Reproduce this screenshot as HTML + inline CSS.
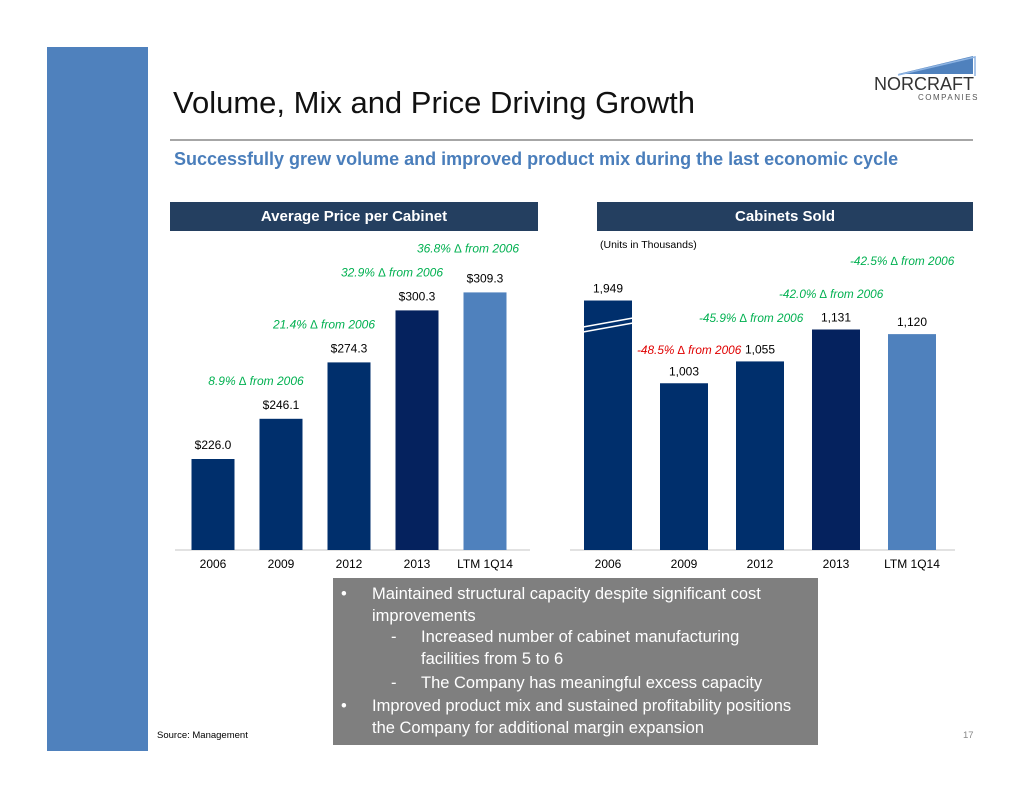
<!DOCTYPE html>
<html><head><meta charset="utf-8"><style>
body{margin:0;width:1034px;height:799px;background:#fff;position:relative;overflow:hidden;font-family:"Liberation Sans",sans-serif}
.abs{position:absolute}
.hdr{position:absolute;top:202px;height:29px;background:#243f60;color:#fff;font-weight:bold;font-size:15px;line-height:29px;text-align:center}
svg text{font-family:"Liberation Sans",sans-serif}
</style></head><body>
<div class="abs" style="left:47px;top:47px;width:101px;height:704px;background:#4f81bd"></div>
<div class="abs" style="left:173px;top:85px;font-size:31px;color:#111">Volume, Mix and Price Driving Growth</div>
<div class="abs" style="left:868px;top:52px;width:115px;height:50px">
<svg width="115" height="50"><polygon points="30,22 105,4 105,22" fill="#4f81bd"/><polyline points="30,23 107,5 107,24" fill="none" stroke="#8db3e2" stroke-width="1.5"/>
<text x="6" y="38" font-family="Liberation Serif" font-size="18" fill="#333">NORCRAFT</text><text x="50" y="48" font-family="Liberation Serif" font-size="8" fill="#555" letter-spacing="1.5">COMPANIES</text></svg></div>
<div class="abs" style="left:170px;top:139px;width:803px;height:2px;background:#a6a6a6"></div>
<div class="abs" style="left:174px;top:149px;font-size:18px;font-weight:bold;color:#4a7ebb">Successfully grew volume and improved product mix during the last economic cycle</div>
<div class="hdr" style="left:170px;width:368px">Average Price per Cabinet</div>
<div class="hdr" style="left:597px;width:376px">Cabinets Sold</div>
<svg id="chart" class="abs" style="left:0;top:0" width="1034" height="799"></svg>
<div class="abs" style="left:333px;top:578px;width:485px;height:167px;background:#7f7f7f;color:#fff;font-size:16.5px;line-height:21.5px">
<div style="position:absolute;left:8px;top:6px">•</div><div style="position:absolute;left:39px;top:6px;width:420px">Maintained structural capacity despite significant cost improvements</div>
<div style="position:absolute;left:58px;top:49px">-</div><div style="position:absolute;left:88px;top:49px;width:345px">Increased number of cabinet manufacturing facilities from 5 to 6</div>
<div style="position:absolute;left:58px;top:95px">-</div><div style="position:absolute;left:88px;top:95px;white-space:nowrap">The Company has meaningful excess capacity</div>
<div style="position:absolute;left:8px;top:118px">•</div><div style="position:absolute;left:39px;top:118px;width:436px">Improved product mix and sustained profitability positions the Company for additional margin expansion</div>
</div>
<div class="abs" style="left:157px;top:730px;font-size:9.5px;color:#000">Source: Management</div>
<div class="abs" style="left:963px;top:730px;font-size:9.5px;color:#888">17</div>
<script>
const priceCats=["2006","2009","2012","2013","LTM 1Q14"];
const priceVals=[226.0,246.1,274.3,300.3,309.3];
const priceLabels=["$226.0","$246.1","$274.3","$300.3","$309.3"];
const priceNotes=["","8.9% ∆ from 2006","21.4% ∆ from 2006","32.9% ∆ from 2006","36.8% ∆ from 2006"];
const unitCats=["2006","2009","2012","2013","LTM 1Q14"];
const unitVals=[1949,1003,1055,1131,1120];
const unitLabels=["1,949","1,003","1,055","1,131","1,120"];
const unitNotes=["","-48.5% ∆ from 2006","-45.9% ∆ from 2006","-42.0% ∆ from 2006","-42.5% ∆ from 2006"];
const NS="http://www.w3.org/2000/svg",svg=document.getElementById('chart');
function mk(t,a,txt){const e=document.createElementNS(NS,t);for(const k in a)e.setAttribute(k,a[k]);if(txt!=null)e.textContent=txt;svg.appendChild(e);return e;}
const base=550;
const yP=v=>base-(v-180.5)*2.0;
const yU=v=>base-(Math.min(v,1200)-606)*0.42;
const xP=i=>213+i*68, xU=i=>608+i*76;
const cols=["#002f6c","#002f6c","#002f6c","#05225e","#4f81bd"];
mk('line',{x1:175,x2:530,y1:base,y2:base,stroke:'#d9d9d9','stroke-width':1.5});
mk('line',{x1:570,x2:955,y1:base,y2:base,stroke:'#d9d9d9','stroke-width':1.5});
priceVals.forEach((v,i)=>{
 const r=mk('rect',{x:xP(i)-21.5,y:yP(v),width:43,height:base-yP(v),fill:cols[i]});
 
 mk('text',{x:xP(i),y:yP(v)-10,'text-anchor':'middle','font-size':12,fill:'#000'},priceLabels[i]);
 mk('text',{x:xP(i),y:568,'text-anchor':'middle','font-size':12,fill:'#000'},priceCats[i]);
 if(priceNotes[i])mk('text',{x:xP(i)-25+(i==4?8:0),y:yP(v)-(i==4?40:34),'text-anchor':'middle','font-size':12,'font-style':'italic',fill:'#00b050'},priceNotes[i]);
});
mk('text',{x:600,y:248,'font-size':10.5,fill:'#000'},'(Units in Thousands)');
unitVals.forEach((v,i)=>{
 const r=mk('rect',{x:xU(i)-24,y:yU(v),width:48,height:base-yU(v),fill:cols[i]});
 
 mk('text',{x:xU(i),y:yU(v)-8,'text-anchor':'middle','font-size':12,fill:'#000'},unitLabels[i]);
 mk('text',{x:xU(i),y:568,'text-anchor':'middle','font-size':12,fill:'#000'},unitCats[i]);
});
mk('line',{x1:583,x2:633,y1:327,y2:318,stroke:'#fff','stroke-width':1.5});
mk('line',{x1:583,x2:633,y1:332,y2:323,stroke:'#fff','stroke-width':1.5});
const notePos=[[0,0],[637,354],[699,322],[779,298],[850,265]];
unitNotes.forEach((n,i)=>{ if(n)mk('text',{x:notePos[i][0],y:notePos[i][1],'font-size':11.8,'font-style':'italic',fill:i==1?'#e00000':'#00b050'},n);});
</script>
</body></html>
